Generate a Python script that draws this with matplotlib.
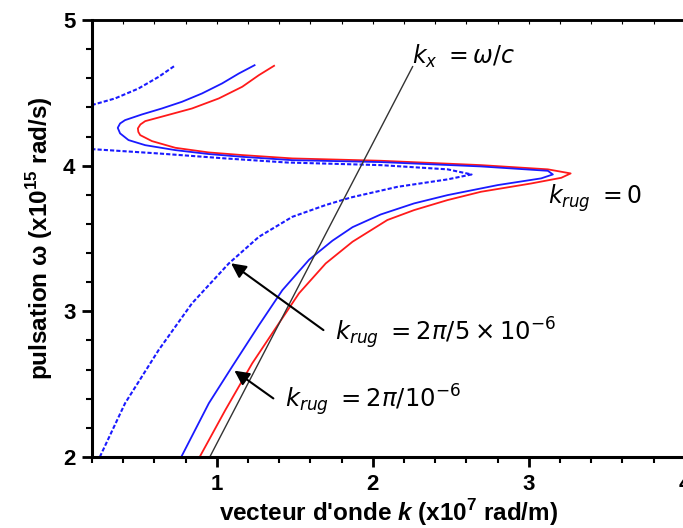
import numpy as np
import matplotlib
matplotlib.use("Agg")
import matplotlib.pyplot as plt
from matplotlib.ticker import MultipleLocator

plt.rcParams['font.family'] = ['Liberation Sans', 'DejaVu Sans']
plt.rcParams['mathtext.fontset'] = 'custom'
plt.rcParams['mathtext.rm'] = 'DejaVu Sans'
plt.rcParams['mathtext.it'] = 'DejaVu Sans:italic'
plt.rcParams['mathtext.bf'] = 'Liberation Sans:bold'
plt.rcParams['mathtext.bfit'] = 'Liberation Sans:italic:bold'

# k (x1e7 rad/m) / omega (x1e15 rad/s)
# k_rug = 0 (red)
k_red = [0.89, 1.055, 1.227, 1.398, 1.527, 1.698, 1.870, 2.093, 2.264, 2.479, 2.693, 3.015, 3.208, 3.268,
         3.122, 2.693, 2.050, 1.484, 1.163, 0.949, 0.734, 0.584, 0.509, 0.497, 0.494, 0.510, 0.541,
         0.669, 0.841, 1.013, 1.163, 1.270, 1.367]
w_red = [2.00, 2.323, 2.643, 2.918, 3.124, 3.329, 3.478, 3.627, 3.695, 3.764, 3.821, 3.878, 3.917, 3.947,
         3.975, 4.004, 4.034, 4.050, 4.073, 4.091, 4.123, 4.169, 4.210, 4.232, 4.256, 4.283, 4.306,
         4.343, 4.393, 4.462, 4.542, 4.622, 4.686]

# k_rug = 2pi/1e-6 (blue solid)
k_blue = [0.772, 0.949, 1.098, 1.270, 1.420, 1.592, 1.741, 1.870, 2.050, 2.264, 2.479, 2.801, 3.079, 3.154,
          3.122, 2.693, 2.050, 1.484, 1.163, 0.949, 0.734, 0.541, 0.434, 0.380, 0.365, 0.380, 0.412,
          0.520, 0.648, 0.777, 0.905, 1.034, 1.141, 1.242]
w_blue = [2.00, 2.369, 2.620, 2.905, 3.145, 3.355, 3.485, 3.578, 3.665, 3.741, 3.798, 3.867, 3.913, 3.940,
          3.965, 3.995, 4.025, 4.038, 4.061, 4.080, 4.107, 4.141, 4.176, 4.222, 4.260, 4.290, 4.313,
          4.352, 4.393, 4.439, 4.496, 4.565, 4.633, 4.690]

# k_rug = 2pi/5e-6 (blue dotted), lower branch + upper branch
k_dot1 = [0.25, 0.412, 0.627, 0.841, 1.077, 1.270, 1.484, 1.698, 1.860, 2.158, 2.479, 2.633,
          2.479, 2.050, 1.450, 1.055, 0.627, 0.198]
w_dot1 = [2.00, 2.369, 2.734, 3.055, 3.329, 3.512, 3.649, 3.730, 3.782, 3.855, 3.906, 3.940,
          3.975, 4.004, 4.022, 4.050, 4.084, 4.114]
k_dot2 = [0.198, 0.348, 0.498, 0.627, 0.730]
w_dot2 = [4.416, 4.462, 4.530, 4.610, 4.686]

# light line k = omega/c
k_light = [0.955, 2.255]
w_light = [2.00, 4.68]

fig = plt.figure(figsize=(6.83, 5.28), dpi=100)
ax = fig.add_axes([0.1347, 0.1345, 0.868, 0.8275])

ax.plot(k_red, w_red, color='#ff1a1a', lw=1.3)
ax.plot(k_blue, w_blue, color='#1a1aff', lw=1.3)
ax.plot(k_dot1, w_dot1, color='#1a1aff', lw=1.5, ls=(0, (2, 1)))
ax.plot(k_dot2, w_dot2, color='#1a1aff', lw=1.5, ls=(0, (2, 1)))
ax.plot(k_light, w_light, color='#333333', lw=1.0)

ax.set_xlim(0.2, 4.0)
ax.set_ylim(2, 5)

ax.xaxis.set_major_locator(MultipleLocator(1))
ax.xaxis.set_minor_locator(MultipleLocator(0.2))
ax.yaxis.set_major_locator(MultipleLocator(1))
ax.yaxis.set_minor_locator(MultipleLocator(0.2))

for s in ['left', 'bottom']:
    ax.spines[s].set_linewidth(2.2)
ax.spines['top'].set_linewidth(1.8)
ax.spines['right'].set_visible(False)

ax.tick_params(which='major', direction='out', length=7, width=2, labelsize=16, pad=5)
ax.tick_params(which='minor', direction='out', length=4, width=1.5)
for lab in ax.get_xticklabels() + ax.get_yticklabels():
    lab.set_fontweight('bold')

top = ax.secondary_xaxis('top')
top.xaxis.set_major_locator(MultipleLocator(0.2))
top.tick_params(direction='in', length=3, width=0.8)
top.set_xticklabels([])
top.spines['top'].set_linewidth(1.8)

ax.set_xlabel(r"vecteur d'onde $\mathbfit{k}$ (x10$^{\mathbf{7}}$ rad/m)",
              fontsize=17.5, fontweight='bold', labelpad=2)
ax.set_ylabel(r"pulsation ω (x10$^{\mathbf{15}}$ rad/s)",
              fontsize=17.5, fontweight='bold', labelpad=6)

ax.text(2.25, 4.75, r"$k_x\ = \omega/c$", fontsize=17, va='center', ha='left')
ax.text(3.12, 3.78, r"$k_{rug}\ = 0$", fontsize=17, va='center', ha='left')
ax.text(1.76, 2.85, r"$k_{rug}\ = 2\pi/5\times10^{-6}$", fontsize=17.5, va='center', ha='left')
ax.text(1.44, 2.39, r"$k_{rug}\ = 2\pi/10^{-6}$", fontsize=17.5, va='center', ha='left')

ax.annotate('', xy=(1.077, 3.341), xytext=(1.698, 2.860),
            arrowprops=dict(arrowstyle='-|>', color='black', lw=1.5, mutation_scale=22))
ax.annotate('', xy=(1.098, 2.604), xytext=(1.377, 2.391),
            arrowprops=dict(arrowstyle='-|>', color='black', lw=1.5, mutation_scale=22))

fig.savefig('out.png', dpi=100)
